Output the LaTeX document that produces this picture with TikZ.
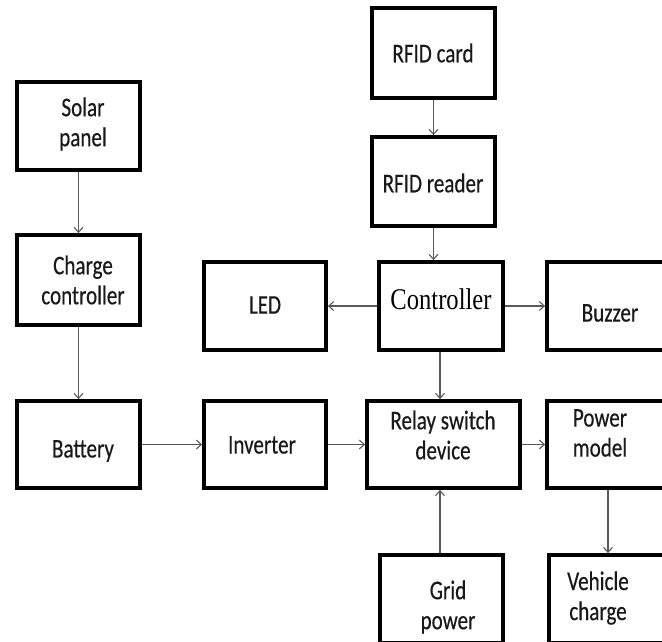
\documentclass[tikz,border=0pt]{standalone}
\usepackage{fontspec}
\setmainfont{Carlito}
\newfontfamily\boxfont[FakeStretch=0.78,FakeBold=0.4]{Carlito}
\newfontfamily\ctrlfont[FakeStretch=0.82]{Liberation Serif}
\usetikzlibrary{arrows.meta}
\begin{document}
\begin{tikzpicture}[x=1pt,y=-1pt,
  blk/.style={draw=black,line width=3.8pt,fill=white,inner sep=0pt},
  txt/.style={inner sep=0pt,align=center,font=\boxfont\fontsize{27}{30}\selectfont,text=black!90},
  ctxt/.style={inner sep=0pt,align=center,font=\ctrlfont\fontsize{30}{34}\selectfont,text=black},
  arr/.style={draw=black!65,line width=1.1pt,-{Straight Barb[length=5pt,width=9pt]}}]
\useasboundingbox (0,0) rectangle (662,642);
% boxes
\node[blk,minimum width=123pt,minimum height=90pt] (card) at (433.5,53) {};
\node[blk,minimum width=123pt,minimum height=89pt] (reader) at (433.5,181.5) {};
\node[blk,minimum width=123pt,minimum height=88pt] (solar) at (78.5,126) {};
\node[blk,minimum width=123pt,minimum height=90pt] (charge) at (78.5,280) {};
\node[blk,minimum width=123pt,minimum height=87pt] (battery) at (78.5,444.5) {};
\node[blk,minimum width=122pt,minimum height=88pt] (led) at (265,306) {};
\node[blk,minimum width=124pt,minimum height=88pt] (ctrl) at (441,306) {};
\node[blk,minimum width=123pt,minimum height=88pt] (buzzer) at (608.5,306) {};
\node[blk,minimum width=122pt,minimum height=87pt] (inverter) at (265,444.5) {};
\node[blk,minimum width=153pt,minimum height=87pt] (relay) at (443.5,444.5) {};
\node[blk,minimum width=123pt,minimum height=87pt] (power) at (608.5,444.5) {};
\node[blk,minimum width=123pt,minimum height=88pt] (grid) at (441.5,599) {};
\node[blk,minimum width=123pt,minimum height=88pt] (vehicle) at (610.5,599) {};
% texts
\node[txt] (cardT) at (433,53) {RFID card};
\node[txt] (readerT) at (433,183) {RFID reader};
\node[txt] (solarT) at (83,124) {Solar\\panel};
\node[txt] (chargeT) at (83,280) {Charge\\controller};
\node[txt] (batteryT) at (83,451) {Battery};
\node[txt] (ledT) at (265,305) {LED};
\node[ctxt] (ctrlT) at (441,299) {Controller};
\node[txt] (buzzerT) at (610,313) {Buzzer};
\node[txt] (inverterT) at (262,445) {Inverter};
\node[txt] (relayT) at (443,435) {Relay switch\\device};
\node[txt] (powerT) at (600,433) {Power\\model};
\node[txt] (gridT) at (448,607) {Grid\\power};
\node[txt] (vehicleT) at (598,598) {Vehicle\\charge};
% connectors
\draw[arr] (card.south) -- (reader.north);
\draw[arr] (reader.south) -- (reader.south |- ctrl.north);
\draw[arr] (solar.south) -- (charge.north);
\draw[arr] (charge.south) -- (battery.north);
\draw[arr] (ctrl.west) -- (led.east);
\draw[arr] (ctrl.east) -- (buzzer.west);
\draw[arr] ([xshift=-1pt]ctrl.south) -- ([xshift=-1pt]ctrl.south |- relay.north);
\draw[arr] (battery.east) -- (inverter.west);
\draw[arr] (inverter.east) -- (relay.west);
\draw[arr] (relay.east) -- (power.west);
\draw[arr] ([xshift=-1.5pt]grid.north) -- ([xshift=-1.5pt]grid.north |- relay.south);
\draw[arr] ([xshift=-0.5pt]power.south) -- ([xshift=-0.5pt]power.south |- vehicle.north);
\end{tikzpicture}
\end{document}
